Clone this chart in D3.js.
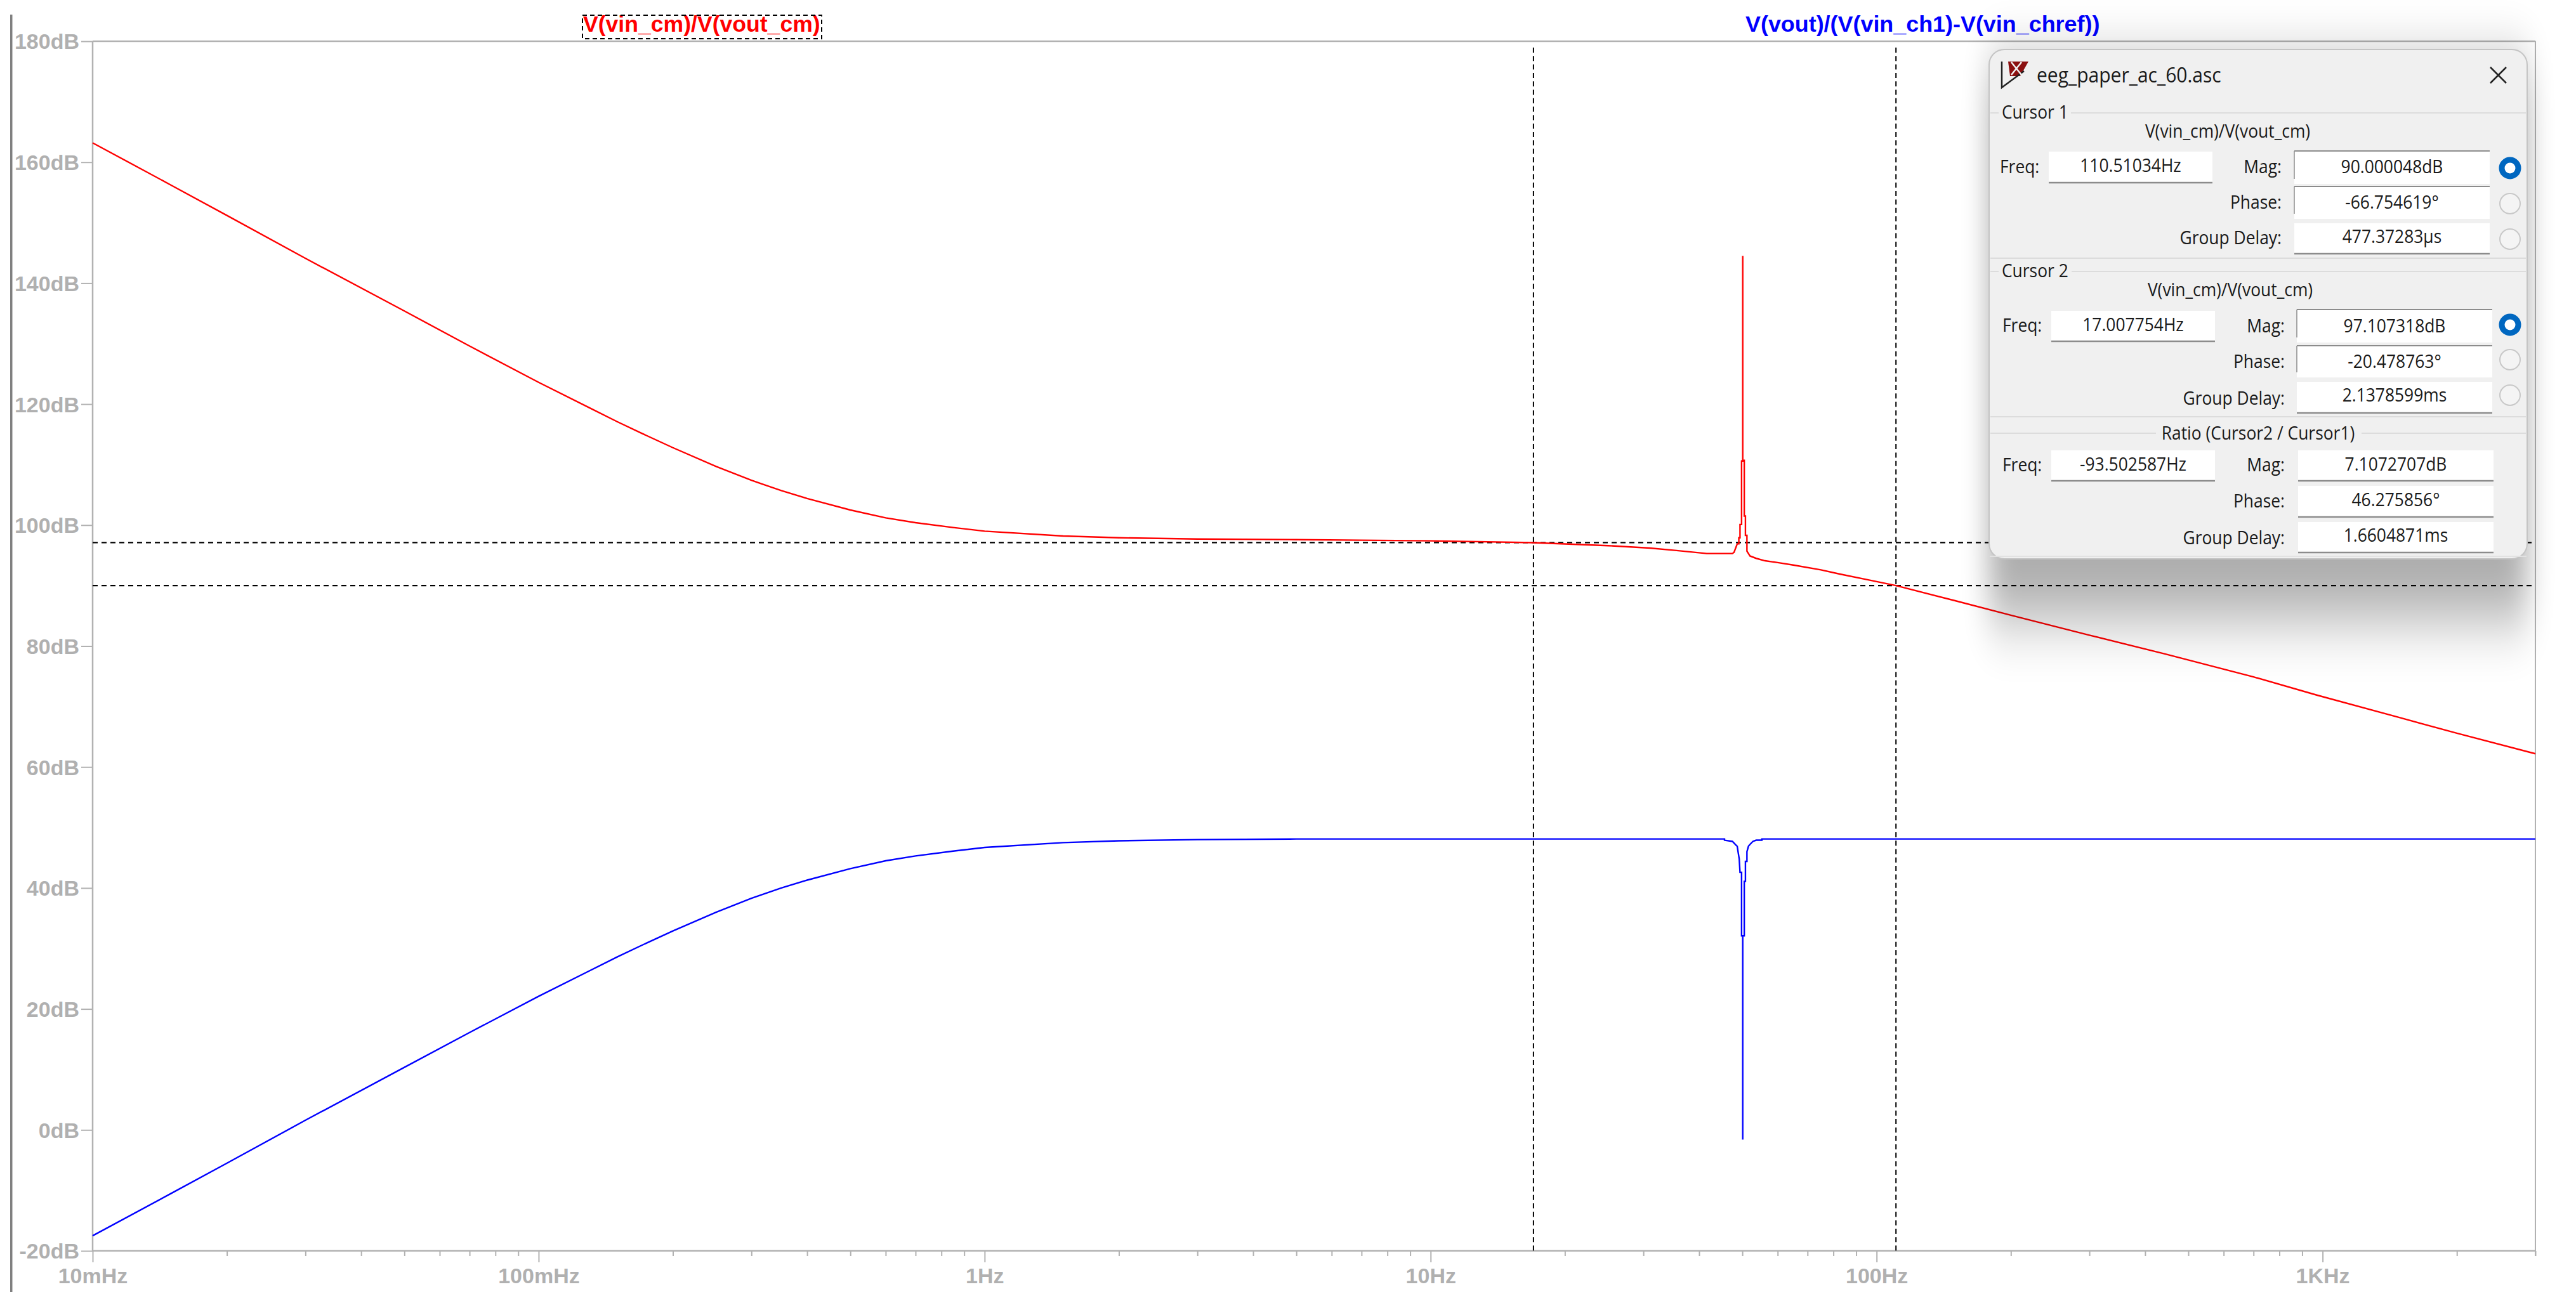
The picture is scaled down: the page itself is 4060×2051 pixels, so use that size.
<!DOCTYPE html>
<html><head><meta charset="utf-8">
<script src="https://cdn.jsdelivr.net/npm/d3@7"></script>
<style>html,body{margin:0;padding:0;background:#fff;overflow:hidden}svg{display:block}</style>
</head><body><svg id="c" width="4060" height="2051"></svg>
<script>
// ---- chart data ----
const redSeriesName = "V(vin_cm)/V(vout_cm)";
const blueSeriesName = "V(vout)/(V(vin_ch1)-V(vin_chref))";
const redFreq = [0.01,0.015,0.02,0.03,0.05,0.07,0.1,0.13,0.15,0.17,0.2,0.25,0.3,0.35,0.4,0.5,0.6,0.7,0.85,1,1.5,2,3,5,7,10,17,25,31,35.6,41.6,47.5,47.9,48.7,49.1,49.1,49.4,49.4,49.8,49.8,50.1,50.1,50.1,50.5,50.5,50.8,50.8,51.2,51.2,51.6,52,53.7,56.2,60,65,75,82.7,95,110.51,150,200,300,443,700,970,1500,2000,3000];
const redDb   = [163.2,156.2,151.2,144.1,135.4,129.6,123.6,119.4,117.1,115.2,112.8,109.7,107.4,105.7,104.4,102.5,101.2,100.4,99.6,99.0,98.2,97.9,97.7,97.6,97.5,97.4,97.1,96.6,96.2,95.8,95.3,95.3,95.5,96.9,96.9,97.9,97.9,100.1,100.1,110.6,110.6,144.5,110.7,110.7,101.5,101.5,98.3,98.3,95.7,95.3,94.9,94.5,94.1,93.8,93.4,92.6,91.9,91.0,90.0,87.5,85.1,81.8,78.7,74.9,71.9,68.1,65.6,62.2];
const blueFreq = [0.01,0.015,0.02,0.03,0.05,0.07,0.1,0.13,0.15,0.17,0.2,0.25,0.3,0.35,0.4,0.5,0.6,0.7,0.85,1,1.5,2,3,5,7,10,40,45.6,45.6,47.5,48.5,48.7,48.9,49.2,49.4,49.8,49.8,50.1,50.1,50.1,50.5,50.5,50.8,50.8,51.2,51.2,51.6,52,52.8,53.7,55.3,55.3,100,3000];
const blueDb   = [-17.5,-10.5,-5.5,1.6,10.35,16.1,22.1,26.3,28.6,30.5,32.9,36.0,38.3,40.0,41.3,43.2,44.5,45.3,46.1,46.7,47.5,47.8,48.0,48.1,48.1,48.1,48.1,48.1,47.9,47.7,47.0,46.9,46.0,44.8,42.6,42.6,32.1,32.1,-1.6,32.1,32.1,41.1,41.1,44.4,44.4,46.0,46.9,47.2,47.7,47.9,47.9,48.1,48.1,48.1];
const yTicks = [180,160,140,120,100,80,60,40,20,0,-20];
const xMajorTicks = [0.01,0.1,1,10,100,1000];
const xMajorLabels = ["10mHz","100mHz","1Hz","10Hz","100Hz","1KHz"];
const xMinorTicks = [2,3,4,5,6,7,8,9,20,30,40,50,60,70,80,90,200,300,400,500,600,700,800,900,2000,3000,4000,5000,6000,7000,8000,9000,20000,30000,40000,50000,60000,70000,80000,90000,200000,300000].map(v=>v/100);
const cursorFreq = [110.51034,17.007754];
const cursorDb = [90.000048,97.107318];
// ---- dialog text ----
const dialogTitle = "eeg_paper_ac_60.asc";
const cursor1Values = ["110.51034Hz","90.000048dB","-66.754619°","477.37283µs"];
const cursor2Values = ["17.007754Hz","97.107318dB","-20.478763°","2.1378599ms"];
const ratioValues = ["-93.502587Hz","7.1072707dB","46.275856°","1.6604871ms"];

const svg = d3.select("#c");
const L=146,R=3996,T=65,B=1972;
const x = d3.scaleLog().domain([0.01,3000]).range([L,R]);
const y = d3.scaleLinear().domain([-20,180]).range([B,T]);
const GRAY="#b2b2b2";
const sans="'Liberation Sans',Arial,sans-serif", ui="'Open Sans',sans-serif";

svg.append("rect").attr("x",16).attr("y",23).attr("width",3.5).attr("height",2014).attr("fill","#808080");

// frame
svg.append("line").attr("x1",R).attr("x2",R).attr("y1",T).attr("y2",1980).attr("stroke",GRAY).attr("stroke-width",2);
svg.append("line").attr("x1",L).attr("x2",L).attr("y1",T).attr("y2",B).attr("stroke",GRAY).attr("stroke-width",2.5);
svg.append("line").attr("x1",L).attr("x2",R).attr("y1",T).attr("y2",T).attr("stroke",GRAY).attr("stroke-width",2.5);

function styleAxis(g){
  g.select(".domain").remove();
  g.selectAll("line").attr("stroke",GRAY).attr("stroke-width",2);
  g.selectAll("text").attr("fill","#b0b0b0").attr("font-family",sans).attr("font-weight","bold").attr("font-size",34);
}
const ya = svg.append("g").attr("transform",`translate(${L},0)`)
  .call(d3.axisLeft(y).tickValues(yTicks).tickSize(18).tickPadding(3).tickFormat(d=>d+"dB")).call(styleAxis);
ya.selectAll("text").attr("dy","0.35em");

svg.append("line").attr("x1",L).attr("x2",R).attr("y1",B).attr("y2",B).attr("stroke",GRAY).attr("stroke-width",2.5);
const xMin = svg.append("g").attr("transform",`translate(0,${B})`)
  .call(d3.axisBottom(x).tickValues(xMinorTicks).tickSize(8).tickFormat("")).call(styleAxis);
const xMaj = svg.append("g").attr("transform",`translate(0,${B})`)
  .call(d3.axisBottom(x).tickValues(xMajorTicks).tickSize(18).tickPadding(9).tickFormat((d,i)=>xMajorLabels[i])).call(styleAxis);
xMaj.selectAll("text").attr("dy",0).attr("y",51).attr("text-anchor","middle");

// cursors
const cur = svg.append("g").attr("stroke","#000").attr("fill","none");
cur.selectAll("line.v").data(cursorFreq).join("line").attr("class","v")
  .attr("x1",d=>x(d)).attr("x2",d=>x(d)).attr("y1",T+10).attr("y2",B)
  .attr("stroke-width",2).attr("stroke-dasharray","8,5.3");
cur.selectAll("line.h").data(cursorDb).join("line").attr("class","h")
  .attr("x1",L).attr("x2",R).attr("y1",d=>y(d)).attr("y2",d=>y(d))
  .attr("stroke-width",2.4).attr("stroke-dasharray","8,6");

// traces
const line = d3.line().x(d=>x(d[0])).y(d=>y(d[1]));
svg.append("path").attr("d",line(d3.zip(blueFreq,blueDb))).attr("fill","none").attr("stroke","#0000ff").attr("stroke-width",2.4);
svg.append("path").attr("d",line(d3.zip(redFreq,redDb))).attr("fill","none").attr("stroke","#ff0000").attr("stroke-width",2.4);

// trace names
svg.append("text").text(redSeriesName).attr("x",919).attr("y",50).attr("fill","#ff0000")
  .attr("font-family",sans).attr("font-weight","bold").attr("font-size",35.6);
svg.append("text").text(blueSeriesName).attr("x",2751).attr("y",50).attr("fill","#0000ff")
  .attr("font-family",sans).attr("font-weight","bold").attr("font-size",35.9);
svg.append("rect").attr("x",918).attr("y",24).attr("width",377).attr("height",37).attr("fill","none")
  .attr("stroke","#000").attr("stroke-width",2).attr("stroke-dasharray","7,5");

// ---- cursor dialog ----
const defs = svg.append("defs");
defs.append("filter").attr("id","sh").attr("x","-20%").attr("y","-40%").attr("width","140%").attr("height","180%")
  .attr("filterUnits","objectBoundingBox")
  .append("feGaussianBlur").attr("stdDeviation","22 50");
svg.append("rect").attr("x",3135).attr("y",100).attr("width",848).attr("height",875)
  .attr("fill","#000").attr("opacity",0.32).attr("filter","url(#sh)");
const dlg = svg.append("g");
dlg.append("rect").attr("x",3135).attr("y",78).attr("width",848).attr("height",803).attr("rx",24)
  .attr("fill","#f0f0f0").attr("stroke","#c4c4c4").attr("stroke-width",2);
dlg.append("line").attr("x1",3136).attr("x2",3982).attr("y1",877).attr("y2",877).attr("stroke","#e2e2e2").attr("stroke-width",2);

// icon + title + close
dlg.append("path").attr("d","M3165,97 L3197,97 L3184,120 L3168,120 Z").attr("fill","#8b1010");
dlg.append("path").attr("d","M3155,97 L3155,138 L3190,112").attr("fill","none").attr("stroke","#222").attr("stroke-width",2.5);
dlg.append("path").attr("d","M3170,98 L3186,118 M3186,98 L3170,118").attr("stroke","#f0f0f0").attr("stroke-width",2.5);
function txt(s,px,py,anchor,size,color){
  const t = dlg.append("text").text(s).attr("x",px).attr("y",py).attr("text-anchor",anchor||"start")
    .attr("font-family",ui).attr("font-size",size||29).attr("fill",color||"#1a1a1a");
  const len = t.node().getComputedTextLength();
  t.attr("textLength",len*0.91).attr("lengthAdjust","spacingAndGlyphs");
  return t;
}
txt(dialogTitle,3210,130,"start",33);
dlg.append("path").attr("d","M3925,106 L3950,131 M3950,106 L3925,131").attr("stroke","#222").attr("stroke-width",2.5);

// separators
function sep(y0,x1,x2){dlg.append("line").attr("x1",x1).attr("x2",x2).attr("y1",y0).attr("y2",y0).attr("stroke","#dcdcdc").attr("stroke-width",2);}
sep(178,3137,3150); sep(178,3264,3981);
sep(407,3137,3981);
sep(428,3137,3150); sep(428,3265,3981);
sep(657,3137,3981);
sep(683,3137,3398); sep(683,3722,3981);
txt("Cursor 1",3155,187); txt("Cursor 2",3155,437);
txt(redSeriesName,3511,217,"middle"); txt(redSeriesName,3515,467,"middle");
txt("Ratio (Cursor2 / Cursor1)",3559,693,"middle");

function box(x0,x1,y0,y1,edge){
  dlg.append("rect").attr("x",x0).attr("y",y0).attr("width",x1-x0).attr("height",y1-y0).attr("fill","#fff");
  const c="#8c8c8c";
  if(edge==="b") dlg.append("line").attr("x1",x0).attr("x2",x1).attr("y1",y1).attr("y2",y1).attr("stroke",c).attr("stroke-width",2.5);
  if(edge==="t"){
    dlg.append("line").attr("x1",x0).attr("x2",x1).attr("y1",y0).attr("y2",y0).attr("stroke",c).attr("stroke-width",2);
    dlg.append("line").attr("x1",x0).attr("x2",x0).attr("y1",y0).attr("y2",y1-8).attr("stroke",c).attr("stroke-width",1.5);
  }
}
function radio(cy,on){
  dlg.append("ellipse").attr("cx",3956).attr("cy",cy).attr("rx",on?13:16).attr("ry",on?13:16).attr("fill",on?"#fff":"#f4f4f4")
    .attr("stroke",on?"#0067c0":"#c8c8c8").attr("stroke-width",on?9:2);
}
// rows: labels, value boxes and value text
function section(values,fx,mx,labelX,rows,fb,radios){
  const [rF,rM,rP,rG]=rows;
  box(fx,fx+258,rF[0],rF[1],"b");
  txt(values[0],fx+129,rF[2],"middle");
  txt("Freq:",fx-77,rF[3]);
  box(mx,mx+308,rM[0],rM[1],fb[0]);
  txt(values[1],mx+154,rM[2],"middle");
  txt("Mag:",labelX,rM[3],"end");
  box(mx,mx+308,rP[0],rP[1],fb[1]);
  txt(values[2],mx+154,rP[2],"middle");
  txt("Phase:",labelX,rP[3],"end");
  box(mx,mx+308,rG[0],rG[1],"b");
  txt(values[3],mx+154,rG[2],"middle");
  txt("Group Delay:",labelX,rG[3],"end");
  if(radios) radios.forEach((c,i)=>radio(c,i===0));
}
section(cursor1Values,3229,3616,3596,
  [[239,288,271,273],[238,290,273,273],[294,345,329,329],[352,400,383,385]],["t","t"],[265,321,377]);
section(cursor2Values,3233,3620,3601,
  [[490,538,522,523],[488,540,524,524],[545,595,580,580],[602,651,633,638]],["t","t"],[512,567,623]);
section(ratioValues,3233,3622,3601,
  [[710,758,742,743],[710,758,742,743],[766,815,798,800],[823,871,854,858]],["b","b"],null);
</script></body></html>
